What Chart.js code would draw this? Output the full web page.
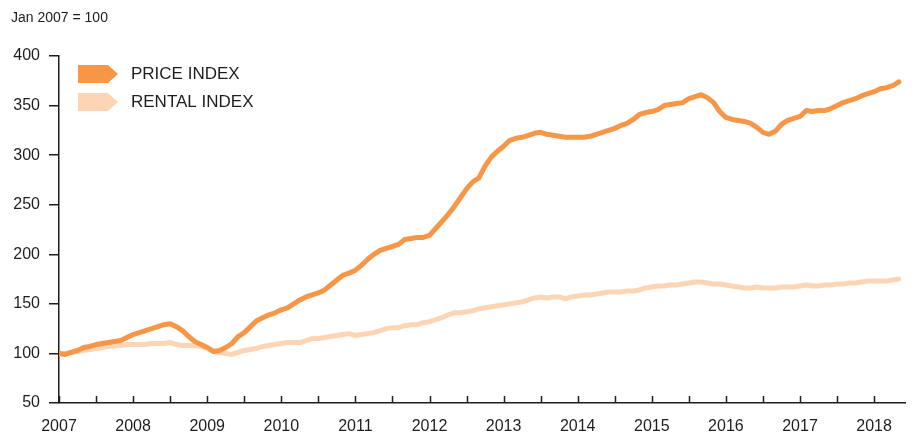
<!DOCTYPE html>
<html>
<head>
<meta charset="utf-8">
<script src="https://cdn.jsdelivr.net/npm/chart.js@4/dist/chart.umd.min.js"></script>
<style>
    html, body { margin: 0; padding: 0; background: #fff; }
    #wrap { width: 915px; height: 434px; }
</style>
</head>
<body>
<div id="wrap"><canvas id="chartIndices"></canvas></div>
<script>
// monthly values, Jan 2007 = 100 (Jan 2007 .. May 2018)
const anos = [2007, 2008, 2009, 2010, 2011, 2012, 2013, 2014, 2015, 2016, 2017, 2018];
const nomes = ['PRICE INDEX', 'RENTAL INDEX'];
const cores = ['#F79646', '#FCD5B4'];

const precos = [
    100, 99, 101, 103, 106, 107, 109, 110, 111, 112, 113, 116,
    119, 121, 123, 125, 127, 129, 130, 127, 123, 117, 112, 109,
    106, 102, 103, 106, 110, 117, 121, 127, 133, 136, 139, 141,
    144, 146, 150, 154, 157, 159, 161, 164, 169, 174, 179, 181,
    184, 189, 195, 200, 204, 206, 208, 210, 215, 216, 217, 217,
    219, 226, 233, 240, 248, 257, 266, 273, 277, 289, 298, 304,
    309, 315, 317, 318, 320, 322, 323, 321, 320, 319, 318, 318,
    318, 318, 319, 321, 323, 325, 327, 330, 332, 336, 341, 343,
    344, 346, 350, 351, 352, 353, 357, 359, 361, 358, 353, 344,
    338, 336, 335, 334, 332, 328, 323, 321, 324, 331, 335, 337,
    339, 345, 344, 345, 345, 347, 350, 353, 355, 357, 360, 362,
    364, 367, 368, 370, 374
];

const alugueis = [
    100, 100, 101, 102, 103, 104, 105, 106, 107, 108, 108, 109,
    109, 109, 109, 110, 110, 110, 111, 109, 108, 108, 108, 107,
    105, 102, 101, 100, 99, 101, 103, 104, 105, 107, 108, 109,
    110, 111, 111, 111, 113, 115, 115, 116, 117, 118, 119, 120,
    118, 119, 120, 121, 123, 125, 126, 126, 128, 129, 129, 131,
    132, 134, 136, 139, 141, 141, 142, 143, 145, 146, 147, 148,
    149, 150, 151, 152, 154, 156, 157, 156, 157, 157, 155, 157,
    158, 159, 159, 160, 161, 162, 162, 162, 163, 163, 164, 166,
    167, 168, 168, 169, 169, 170, 171, 172, 172, 171, 170, 170,
    169, 168, 167, 166, 166, 167, 166, 166, 166, 167, 167, 167,
    168, 169, 168, 168, 169, 169, 170, 170, 171, 171, 172, 173,
    173, 173, 173, 174, 175
];

const corTexto = '#1e1e1e';
Chart.defaults.font.family = '"Liberation Sans", Arial, sans-serif';

// ticks inside the x axis every six months + arrow-shaped legend
const extras = {
    id: 'extras',
    afterDraw(chart) {
        const ctx = chart.ctx;
        const area = chart.chartArea;
        const escalaX = chart.scales.x;
        ctx.save();
        ctx.strokeStyle = corTexto;
        ctx.lineWidth = 1.5;
        for (let m = 0; m < precos.length; m += 6) {
            const px = Math.round(escalaX.getPixelForValue(m)) + 0.5;
            ctx.beginPath();
            ctx.moveTo(px, area.bottom);
            ctx.lineTo(px, area.bottom - 7);
            ctx.stroke();
        }

        chart.data.datasets.forEach(function (ds, i) {
            const lx = area.left + 19;
            const ly = area.top + 9 + i * 28;
            ctx.fillStyle = ds.borderColor;
            ctx.beginPath();
            ctx.moveTo(lx, ly);
            ctx.lineTo(lx + 30, ly);
            ctx.lineTo(lx + 40, ly + 9);
            ctx.lineTo(lx + 30, ly + 18);
            ctx.lineTo(lx, ly + 18);
            ctx.closePath();
            ctx.fill();

            ctx.fillStyle = corTexto;
            ctx.font = '17px "Liberation Sans", Arial, sans-serif';
            ctx.textBaseline = 'middle';
            ctx.textAlign = 'left';
            ctx.fillText(ds.label, lx + 53, ly + 9.5);
        });
        ctx.restore();
    }
};

const data = {
    datasets: [
        {
            label: nomes[0],
            data: precos.map(function (v, i) { return { x: i, y: v }; }),
            borderColor: cores[0],
            backgroundColor: cores[0],
            borderWidth: 5,
            pointRadius: 0,
            tension: 0,
            borderJoinStyle: 'round',
            borderCapStyle: 'round'
        },
        {
            label: nomes[1],
            data: alugueis.map(function (v, i) { return { x: i, y: v }; }),
            borderColor: cores[1],
            backgroundColor: cores[1],
            borderWidth: 5,
            pointRadius: 0,
            tension: 0,
            borderJoinStyle: 'round',
            borderCapStyle: 'round'
        }
    ]
};

const config = {
    type: 'line',
    data: data,
    options: {
        responsive: true,
        maintainAspectRatio: false,
        animation: false,
        layout: {
            padding: { left: 11, right: 10, top: 0, bottom: 0 }
        },
        plugins: {
            legend: { display: false },
            tooltip: { enabled: false },
            title: {
                display: true,
                text: 'Jan 2007 = 100',
                align: 'start',
                color: corTexto,
                font: { size: 14, weight: 'normal' },
                padding: { top: 10, bottom: 29.2 }
            }
        },
        scales: {
            x: {
                type: 'linear',
                min: 0,
                max: 137,
                ticks: {
                    stepSize: 12,
                    includeBounds: false,
                    autoSkip: false,
                    maxRotation: 0,
                    padding: 14,
                    color: corTexto,
                    font: { size: 16 },
                    callback: function (value) {
                        return value % 12 === 0 ? String(anos[value / 12]) : '';
                    }
                },
                grid: { display: true, drawOnChartArea: false, drawTicks: false },
                border: { display: true, color: corTexto, width: 1.5 },
                afterFit: function (scale) { scale.height = 31; }
            },
            y: {
                min: 50,
                max: 400,
                ticks: {
                    stepSize: 50,
                    padding: 9,
                    color: corTexto,
                    font: { size: 16 }
                },
                grid: { drawOnChartArea: false, drawTicks: true, tickLength: 10, color: corTexto, lineWidth: 1.5 },
                border: { display: true, color: corTexto, width: 1.5 },
                afterFit: function (scale) { scale.width = 48; }
            }
        }
    },
    plugins: [extras]
};

const chartIndices = new Chart(document.getElementById('chartIndices'), config);
</script>
</body>
</html>
